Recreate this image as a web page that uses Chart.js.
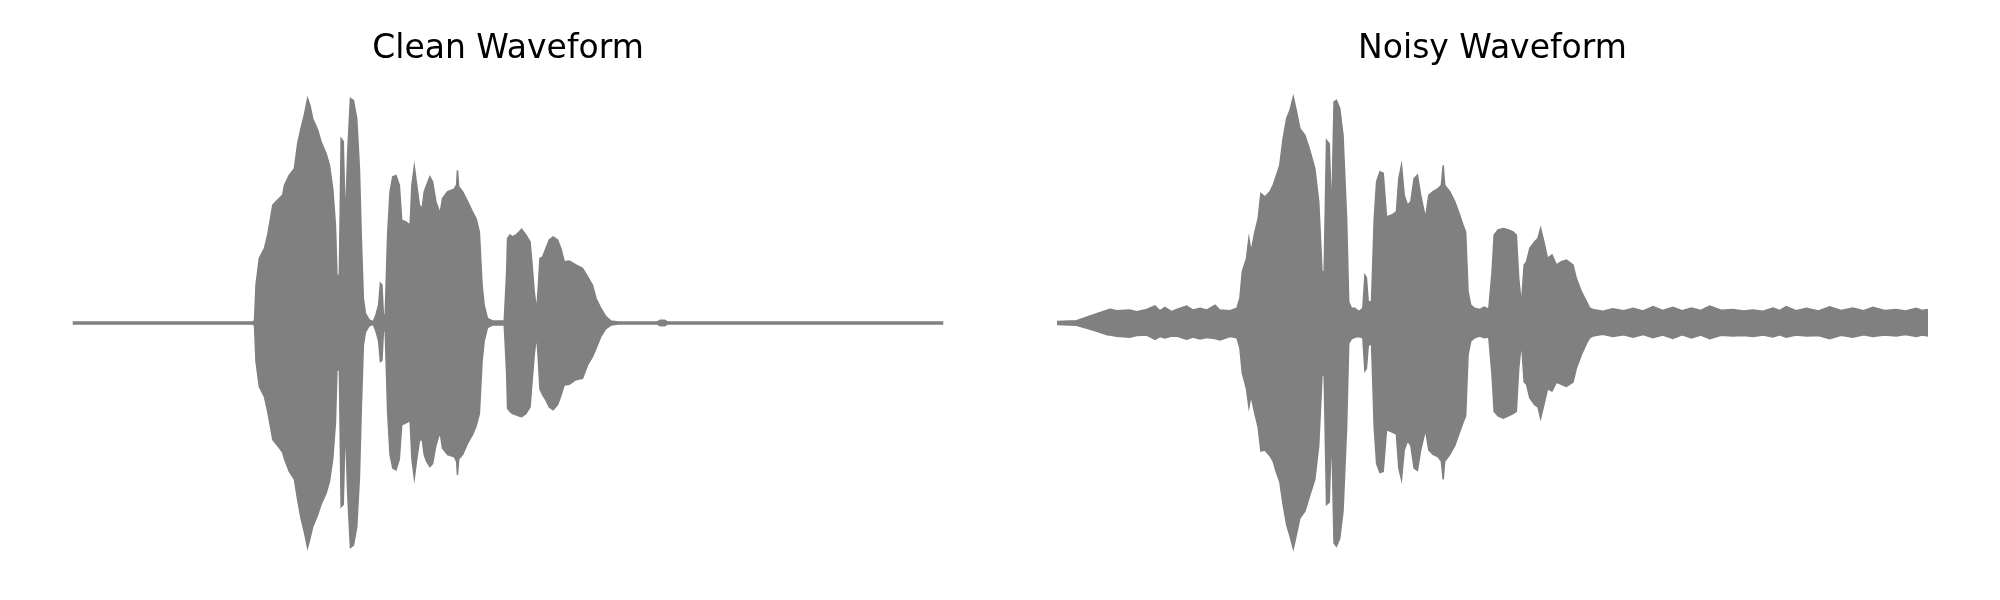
<!DOCTYPE html>
<html>
<head>
<meta charset="utf-8">
<title>Clean vs Noisy Waveform</title>
<script src="https://cdn.jsdelivr.net/npm/chart.js@4.4.1/dist/chart.umd.min.js"></script>
<style>
  html, body { margin: 0; padding: 0; background: #fff; }
  .panel { position: absolute; top: 0; width: 1000px; height: 600px; }
  #cleanBox { left: 0; }
  #noisyBox { left: 1000px; }
</style>
</head>
<body>
<div class="panel" id="cleanBox"><canvas id="clean"></canvas></div>
<div class="panel" id="noisyBox"><canvas id="noisy"></canvas></div>
<script>
// amplitude envelope (time in s, peak / trough magnitude)
const cleanTime = [0.000, 0.600, 0.607, 0.612, 0.623, 0.634, 0.640, 0.651, 0.668, 0.684, 0.701, 0.707, 0.723, 0.740, 0.751, 0.762, 0.773, 0.784, 0.792, 0.801, 0.818, 0.829, 0.846, 0.857, 0.868, 0.877, 0.882, 0.890, 0.896, 0.903, 0.910, 0.918, 0.927, 0.937, 0.948, 0.957, 0.963, 0.970, 0.977, 0.990, 1.003, 1.012, 1.021, 1.027, 1.032, 1.037, 1.043, 1.051, 1.059, 1.068, 1.079, 1.090, 1.098, 1.112, 1.126, 1.132, 1.140, 1.148, 1.157, 1.166, 1.173, 1.181, 1.192, 1.201, 1.212, 1.226, 1.234, 1.251, 1.273, 1.281, 1.284, 1.288, 1.301, 1.318, 1.334, 1.346, 1.357, 1.366, 1.373, 1.384, 1.401, 1.440, 1.448, 1.451, 1.459, 1.468, 1.479, 1.490, 1.498, 1.512, 1.526, 1.532, 1.540, 1.548, 1.554, 1.559, 1.568, 1.579, 1.590, 1.603, 1.618, 1.629, 1.640, 1.657, 1.679, 1.701, 1.718, 1.734, 1.746, 1.762, 1.779, 1.796, 1.820, 1.950, 1.960, 1.975, 1.985, 2.905];
const cleanUpper = [0.004, 0.004, 0.010, 0.167, 0.285, 0.314, 0.329, 0.388, 0.520, 0.542, 0.564, 0.608, 0.652, 0.681, 0.791, 0.858, 0.916, 0.990, 0.960, 0.902, 0.850, 0.799, 0.747, 0.696, 0.593, 0.432, 0.211, 0.211, 0.813, 0.800, 0.432, 0.755, 0.990, 0.982, 0.902, 0.681, 0.388, 0.109, 0.043, 0.013, 0.006, 0.035, 0.080, 0.175, 0.167, 0.035, 0.035, 0.388, 0.579, 0.645, 0.651, 0.608, 0.454, 0.446, 0.432, 0.608, 0.689, 0.608, 0.520, 0.505, 0.579, 0.608, 0.645, 0.623, 0.535, 0.483, 0.549, 0.579, 0.590, 0.608, 0.674, 0.601, 0.579, 0.535, 0.490, 0.461, 0.402, 0.167, 0.079, 0.020, 0.009, 0.009, 0.226, 0.373, 0.388, 0.380, 0.388, 0.402, 0.414, 0.388, 0.358, 0.270, 0.138, 0.050, 0.167, 0.285, 0.292, 0.329, 0.366, 0.380, 0.366, 0.329, 0.270, 0.273, 0.256, 0.241, 0.204, 0.167, 0.109, 0.065, 0.028, 0.009, 0.004, 0.004, 0.012, 0.012, 0.004, 0.004];
const cleanLower = [0.004, 0.004, 0.010, 0.170, 0.280, 0.310, 0.325, 0.390, 0.515, 0.540, 0.570, 0.600, 0.655, 0.690, 0.780, 0.860, 0.920, 0.990, 0.950, 0.900, 0.845, 0.800, 0.750, 0.700, 0.600, 0.440, 0.207, 0.207, 0.810, 0.800, 0.430, 0.760, 0.990, 0.980, 0.900, 0.680, 0.390, 0.100, 0.040, 0.012, 0.006, 0.035, 0.080, 0.170, 0.165, 0.035, 0.035, 0.390, 0.580, 0.640, 0.648, 0.600, 0.449, 0.440, 0.430, 0.600, 0.684, 0.600, 0.520, 0.510, 0.580, 0.610, 0.633, 0.620, 0.540, 0.480, 0.552, 0.580, 0.590, 0.610, 0.670, 0.600, 0.580, 0.530, 0.493, 0.455, 0.400, 0.170, 0.080, 0.020, 0.009, 0.009, 0.220, 0.376, 0.390, 0.400, 0.405, 0.410, 0.413, 0.400, 0.370, 0.270, 0.140, 0.050, 0.170, 0.290, 0.317, 0.340, 0.370, 0.383, 0.360, 0.320, 0.273, 0.270, 0.250, 0.244, 0.185, 0.150, 0.112, 0.060, 0.025, 0.009, 0.004, 0.004, 0.012, 0.012, 0.004, 0.004];

const noisyTime = [0.000, 0.065, 0.120, 0.170, 0.177, 0.199, 0.243, 0.266, 0.299, 0.327, 0.343, 0.360, 0.382, 0.399, 0.432, 0.454, 0.477, 0.499, 0.527, 0.543, 0.577, 0.600, 0.610, 0.618, 0.632, 0.640, 0.647, 0.660, 0.671, 0.680, 0.693, 0.710, 0.721, 0.732, 0.743, 0.754, 0.766, 0.777, 0.788, 0.799, 0.810, 0.827, 0.843, 0.860, 0.873, 0.884, 0.891, 0.899, 0.908, 0.916, 0.924, 0.932, 0.943, 0.954, 0.966, 0.973, 0.982, 0.993, 1.007, 1.020, 1.027, 1.032, 1.038, 1.049, 1.058, 1.066, 1.077, 1.088, 1.099, 1.116, 1.132, 1.140, 1.149, 1.158, 1.169, 1.180, 1.191, 1.202, 1.213, 1.229, 1.240, 1.254, 1.271, 1.282, 1.288, 1.293, 1.310, 1.327, 1.343, 1.354, 1.363, 1.371, 1.380, 1.393, 1.410, 1.425, 1.440, 1.451, 1.458, 1.471, 1.488, 1.504, 1.521, 1.532, 1.540, 1.549, 1.558, 1.566, 1.577, 1.593, 1.604, 1.613, 1.624, 1.636, 1.651, 1.666, 1.682, 1.699, 1.721, 1.732, 1.749, 1.766, 1.777,
    1.788, 1.820, 1.854, 1.890, 1.921, 1.955, 1.988, 2.020, 2.054, 2.085, 2.116, 2.147, 2.177, 2.215, 2.254, 2.290, 2.321, 2.355, 2.388, 2.410, 2.432, 2.465, 2.499, 2.540, 2.577, 2.615, 2.654, 2.690, 2.721, 2.760, 2.799, 2.830, 2.866, 2.885, 2.905];
const noisyUpper = [0.007, 0.010, 0.035, 0.057, 0.060, 0.054, 0.057, 0.050, 0.060, 0.075, 0.054, 0.069, 0.050, 0.060, 0.075, 0.057, 0.065, 0.057, 0.079, 0.057, 0.054, 0.065, 0.109, 0.226, 0.285, 0.373, 0.314, 0.402, 0.461, 0.571, 0.556, 0.579, 0.608, 0.652, 0.696, 0.813, 0.902, 0.938, 0.997, 0.931, 0.858, 0.828, 0.762, 0.681, 0.535, 0.226, 0.226, 0.806, 0.791, 0.461, 0.975, 0.982, 0.946, 0.828, 0.461, 0.094, 0.065, 0.065, 0.050, 0.065, 0.211, 0.200, 0.094, 0.094, 0.461, 0.623, 0.667, 0.660, 0.468, 0.476, 0.490, 0.637, 0.696, 0.564, 0.520, 0.535, 0.637, 0.652, 0.564, 0.461, 0.564, 0.579, 0.593, 0.608, 0.696, 0.608, 0.579, 0.535, 0.476, 0.432, 0.402, 0.138, 0.079, 0.065, 0.060, 0.070, 0.060, 0.226, 0.388, 0.411, 0.417, 0.411, 0.402, 0.388, 0.197, 0.079, 0.256, 0.270, 0.329, 0.358, 0.373, 0.417, 0.358, 0.285, 0.300, 0.256, 0.270, 0.277, 0.256, 0.197, 0.138, 0.094, 0.065,
    0.060, 0.052, 0.063, 0.054, 0.065, 0.053, 0.072, 0.055, 0.069, 0.054, 0.066, 0.055, 0.075, 0.056, 0.060, 0.053, 0.057, 0.052, 0.066, 0.055, 0.072, 0.054, 0.065, 0.053, 0.072, 0.055, 0.066, 0.054, 0.069, 0.055, 0.060, 0.053, 0.065, 0.055, 0.060];
const noisyLower = [0.007, 0.010, 0.031, 0.053, 0.053, 0.058, 0.063, 0.055, 0.053, 0.072, 0.060, 0.066, 0.058, 0.057, 0.072, 0.062, 0.070, 0.064, 0.068, 0.075, 0.060, 0.065, 0.110, 0.220, 0.290, 0.370, 0.320, 0.400, 0.460, 0.565, 0.560, 0.585, 0.610, 0.660, 0.700, 0.800, 0.890, 0.940, 0.995, 0.930, 0.860, 0.830, 0.760, 0.690, 0.540, 0.230, 0.230, 0.800, 0.790, 0.460, 0.970, 0.985, 0.950, 0.830, 0.460, 0.090, 0.070, 0.063, 0.060, 0.065, 0.210, 0.200, 0.100, 0.090, 0.460, 0.620, 0.660, 0.655, 0.470, 0.480, 0.490, 0.640, 0.690, 0.560, 0.520, 0.540, 0.640, 0.650, 0.560, 0.470, 0.560, 0.580, 0.590, 0.610, 0.690, 0.610, 0.580, 0.540, 0.480, 0.440, 0.410, 0.140, 0.080, 0.065, 0.058, 0.065, 0.062, 0.230, 0.390, 0.410, 0.420, 0.410, 0.400, 0.390, 0.200, 0.080, 0.260, 0.270, 0.330, 0.360, 0.370, 0.420, 0.360, 0.290, 0.300, 0.260, 0.270, 0.280, 0.260, 0.200, 0.140, 0.090, 0.065,
    0.057, 0.050, 0.060, 0.052, 0.063, 0.051, 0.065, 0.053, 0.068, 0.052, 0.066, 0.053, 0.069, 0.054, 0.057, 0.055, 0.060, 0.053, 0.062, 0.052, 0.063, 0.053, 0.057, 0.055, 0.069, 0.054, 0.063, 0.052, 0.060, 0.053, 0.057, 0.051, 0.060, 0.053, 0.057];

const duration = 2.905;
const waveColor = '#808080';

function waveChart(id, title, times, upper, lower, pad) {
    const ctx = document.getElementById(id).getContext('2d');
    return new Chart(ctx, {
        type: 'line',
        data: {
            datasets: [{
                data: times.map((t, i) => ({ x: t, y: upper[i] })),
                borderColor: waveColor,
                backgroundColor: waveColor,
                borderWidth: 1.5,
                pointRadius: 0,
                tension: 0,
                fill: '+1'
            }, {
                data: times.map((t, i) => ({ x: t, y: -lower[i] })),
                borderColor: waveColor,
                backgroundColor: waveColor,
                borderWidth: 1.5,
                pointRadius: 0,
                tension: 0,
                fill: false
            }]
        },
        options: {
            responsive: true,
            maintainAspectRatio: false,
            animation: false,
            layout: {
                padding: { left: pad[0], right: pad[1], top: 0, bottom: 27.6 }
            },
            scales: {
                x: { type: 'linear', min: 0, max: duration, display: false },
                y: { min: -1.1, max: 1.1, display: false }
            },
            plugins: {
                legend: { display: false },
                tooltip: { enabled: false },
                title: {
                    display: true,
                    text: title,
                    color: '#000',
                    font: { family: 'DejaVu Sans', size: 33, weight: 'normal' },
                    padding: { top: 30, bottom: 4 }
                }
            }
        }
    });
}

waveChart('clean', 'Clean Waveform', cleanTime, cleanUpper, cleanLower, [72.5, 56.5]);
waveChart('noisy', 'Noisy Waveform', noisyTime, noisyUpper, noisyLower, [57, 72]);
</script>
</body>
</html>
